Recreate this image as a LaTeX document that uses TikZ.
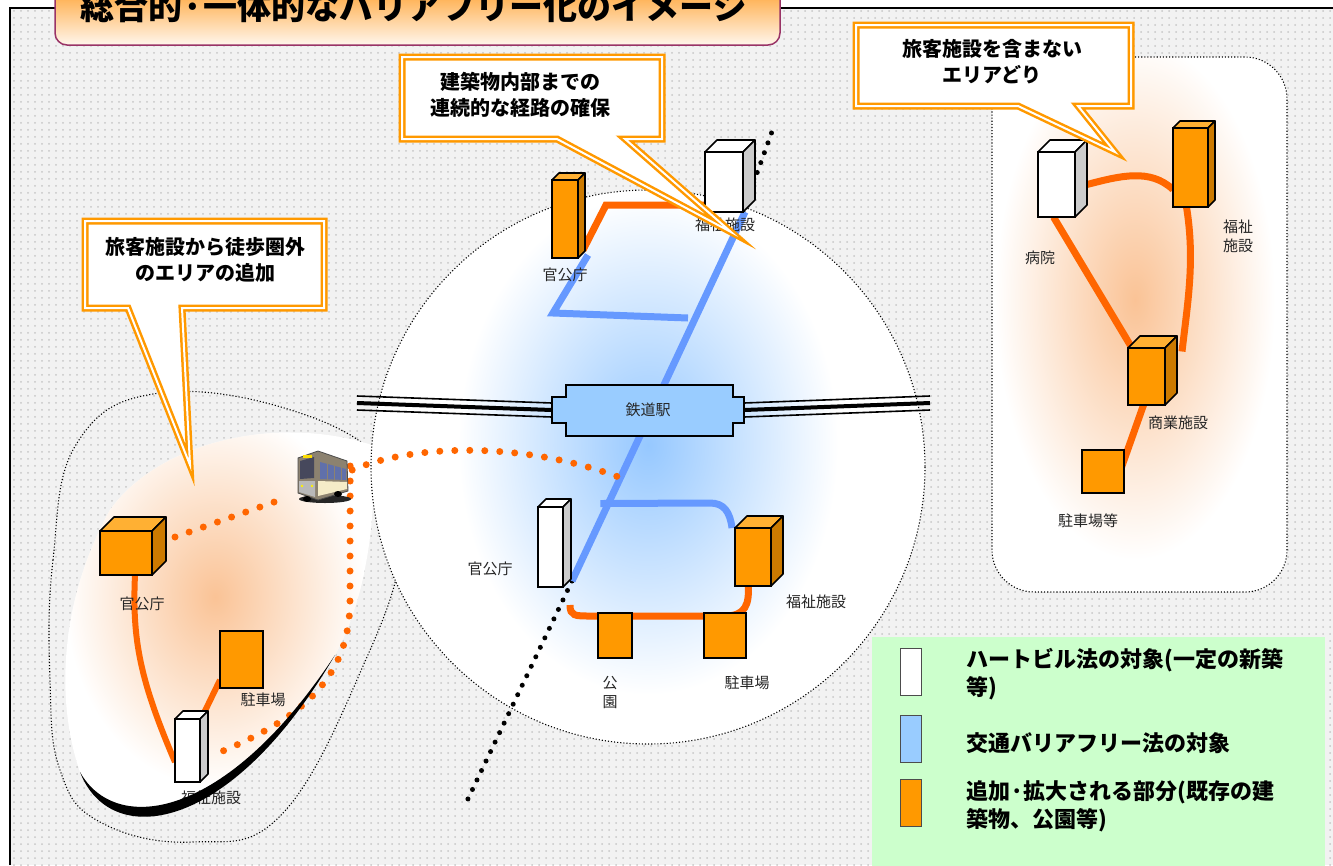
\documentclass[tikz,border=0pt]{standalone}
\usepackage{fontspec}
\setmainfont{Noto Sans CJK JP}
\usetikzlibrary{calc,patterns.meta}
\definecolor{bldorange}{RGB}{255,153,0}
\definecolor{bldtop}{RGB}{255,176,51}
\definecolor{bldside}{RGB}{204,122,0}
\definecolor{wside}{RGB}{204,204,204}
\definecolor{routeorange}{RGB}{255,102,0}
\definecolor{routeblue}{RGB}{102,153,255}
\definecolor{stationblue}{RGB}{153,204,255}
\definecolor{glowblue}{RGB}{150,200,255}
\definecolor{glowpeach}{RGB}{250,195,150}
\definecolor{balloonorange}{RGB}{255,153,0}
\definecolor{titleedge}{RGB}{153,51,102}
\definecolor{titletop}{RGB}{255,140,0}
\definecolor{titlebottom}{RGB}{255,246,236}
\definecolor{legendgreen}{RGB}{204,255,204}
\definecolor{busbody}{RGB}{140,130,112}
\definecolor{buswin}{RGB}{70,72,92}
\definecolor{busside}{RGB}{96,112,170}
\definecolor{buscream}{RGB}{245,236,200}
\pgfdeclarelayer{back}
\pgfdeclarelayer{routes}
\pgfsetlayers{back,routes,main}
\newcommand{\bldg}[7]{%
  \filldraw[#7top] (#2,#3) -- ({#2+#6},{#3-#6}) -- ({#4+#6},{#3-#6}) -- (#4,#3) -- cycle;
  \filldraw[#7side] (#4,#3) -- ({#4+#6},{#3-#6}) -- ({#4+#6},{#5-#6}) -- (#4,#5) -- cycle;
  \node[#7front, minimum width={#4-#2}, minimum height={#5-#3}] (#1) at (#2,#3) {};
}

\begin{document}
\begin{tikzpicture}[x=1pt, y=-1pt,
    wtop/.style={fill=white, draw=black, line width=1.6pt, line join=round},
    wside/.style={fill=wside, draw=black, line width=1.6pt, line join=round},
    wfront/.style={fill=white, draw=black, line width=1.6pt, inner sep=0, outer sep=0, anchor=north west},
    otop/.style={fill=bldtop, draw=black, line width=1.6pt, line join=round},
    oside/.style={fill=bldside, draw=black, line width=1.6pt, line join=round},
    ofront/.style={fill=bldorange, draw=black, line width=1.6pt, inner sep=0, outer sep=0, anchor=north west},
    lot/.style={fill=bldorange, draw=black, line width=1.6pt, inner sep=0, outer sep=0, anchor=north west},
    route/.style={routeorange, line width=7pt},
    bluepath/.style={routeblue, line width=7pt},
    dotroute/.style={routeorange, line width=7pt, line cap=round, dash pattern=on 0pt off 15pt},
    raildots/.style={black, line width=5pt, line cap=round, dash pattern=on 0pt off 10.5pt},
    regionline/.style={black, line width=1.1pt, dotted},
    lbl/.style={font=\fontsize{15}{19}\selectfont, text=black!85, inner sep=0, align=center},
    note/.style={font=\bfseries\fontsize{20}{26}\selectfont, align=center, inner sep=0},
    balloon/.style={draw=balloonorange, line width=2.5pt, double=white, double distance=2pt, fill=white, line join=miter},
    legtext/.style={font=\bfseries\fontsize{22}{28}\selectfont, align=left, inner sep=0, anchor=west},
    swatch/.style={draw=black!70, line width=1pt, minimum width=21, minimum height=47, inner sep=0}]
\useasboundingbox (0,0) rectangle (1333,865);

\begin{pgfonlayer}{back}
\fill[white] (0,0) rectangle (1333,865);
\fill[black!5] (10,8) rectangle (1333,865);
\fill[pattern={Dots[distance=7pt, radius=1pt]}, pattern color=black!22] (10,8) rectangle (1333,865);
\draw[line width=1.6pt] (10,865) -- (10,8) -- (1333,8);

\draw[regionline] plot[smooth cycle, tension=0.7] coordinates {(50,680) (53,560) (77,443) (160,393) (300,413) (390,470) (402,545) (367,657) (283,813) (193,842) (100,822) (60,770)};

\begin{scope}
  \clip (648,467) circle (277);
  \fill[white] (648,467) circle (277);
  \shade[inner color=glowblue, outer color=white] (648,445) ellipse (190 and 250);
\end{scope}

\begin{scope}
  \clip (335,655) .. controls (225,822) and (115,835) .. (80,772) .. controls (55,700) and (60,600) .. (110,510) .. controls (160,440) and (280,415) .. (372,445) .. controls (378,520) and (365,600) .. (335,655);
  \fill[white] (0,380) rectangle (400,840);
  \shade[inner color=glowpeach, outer color=white] (215,597) ellipse (150 and 190);
\end{scope}
\draw[regionline] (648,467) circle (277);

\begin{scope}
  \clip[rounded corners=42pt] (992,57) rectangle (1287,592);
  \fill[white] (992,57) rectangle (1287,592);
  \shade[inner color=glowpeach, outer color=white] (1135,300) ellipse (140 and 260);
\end{scope}
\draw[regionline, rounded corners=42pt] (992,57) rectangle (1287,592);
\end{pgfonlayer}

\bldg{hosp}{1038}{152}{1075}{217}{12}{w}
\bldg{wel4}{1173}{128}{1208}{207}{7}{o}
\bldg{shop}{1128}{348}{1165}{405}{12}{o}
\node[lot, minimum width=42, minimum height=43] (lot4) at (1082,450) {};

\bldg{gov1}{552}{180}{578}{258}{7}{o}
\bldg{wel1}{705}{152}{743}{212}{12}{w}
\bldg{gov2}{538}{507}{563}{587}{8}{w}
\bldg{wel2}{735}{528}{771}{586}{12}{o}
\node[lot, minimum width=34, minimum height=45] (park) at (598,613) {};
\node[lot, minimum width=42, minimum height=45] (lot2) at (704,613) {};

\bldg{gov3}{100}{531}{152}{575}{14}{o}
\node[lot, minimum width=43, minimum height=57] (lot3) at (220,631) {};
\bldg{wel3}{175}{719}{200}{782}{8}{w}

\node[minimum width=52, minimum height=50, inner sep=0] (bus) at (322,476) {};
\fill[black!85] (325,499) ellipse (26 and 4);
\filldraw[fill=busbody, draw=black!70, line width=0.8pt] (298,458) -- (318,451) -- (347,461) -- (348,491) -- (318,500) -- (298,493) -- cycle;
\fill[buswin] (300,461) -- (314,457) -- (314,478) -- (300,479) -- cycle;
\fill[busside] (320,462) -- (346,469) -- (346,480) -- (320,479) -- cycle;
\draw[busbody, line width=0.8pt] (327,464) -- (327,480) (334,466) -- (334,481) (341,467) -- (341,481);
\fill[buscream] (318,481) -- (347,482) -- (347,489) -- (318,496) -- cycle;
\fill[gray!55] (299,481) -- (315,481) -- (315,497) -- (299,492) -- cycle;
\fill[yellow!80!orange] (303,455) rectangle (312,458);
\fill[yellow] (302,486) circle (1.3) (312,486) circle (1.3);
\fill[black] (307,499) ellipse (4 and 3) (338,494) ellipse (4 and 3);

\coordinate (d1) at ($(wel1.south east)+(2,0)$);
\coordinate (d2) at ($(gov2.south east)+(9,-6)$);
\coordinate (t1) at (774,126);
\coordinate (t2) at (466,803);
\coordinate (b1) at (688,318);
\coordinate (b2) at ($(d1)!0.79!(d2)+(-8,0)$);
\coordinate (j2) at ($(d1)!0.72!(d2)$);

\begin{pgfonlayer}{routes}
\draw[raildots] (wel1.south east) -- (t1);
\draw[raildots] (d2) -- (t2);

\draw[route] ($(hosp.east)+(12,0)$) .. controls (1120,176) and (1150,168) .. ($(wel4.west)+(0,22)$);
\draw[route] ($(wel4.south)+(-4,0)$) .. controls (1195,260) and (1188,300) .. ($(shop.east)+(17,-25)$);
\draw[route] ($(hosp.south)+(-3,0)$) -- ($(shop.north west)+(4,0)$);
\draw[route] ($(shop.south)+(-3,0)$) -- ($(lot4.east)+(-4,0)$);

\draw[bluepath] ($(gov1.south east)+(10,-3)$) -- (553,313) -- (b1);
\draw[bluepath] (d1) -- (d2);
\draw[bluepath] (b2) -- (710,503) .. controls (724,503) and (730,512) .. ($(wel2.north west)+(-3,0)$);
\draw[route] ($(gov1.south east)+(5,-8)$) -- (606,205) -- ($(wel1.south west)+(2,-7)$);
\draw[route] ($(gov2.south east)+(7,18)$) .. controls (570,616) and (575,616) .. (590,616) -- (725,616) .. controls (745,616) and (750,605) .. ($(wel2.south)+(-5,-3)$);
\draw[dotroute] ($(bus.east)+(4,-6)$) .. controls (410,445) and (520,440) .. (j2);

\draw[route, line width=6pt] ($(gov3.south)+(9,0)$) .. controls (132,640) and (140,680) .. ($(wel3.south west)+(0,-20)$);
\draw[route, line width=6pt] ($(lot3.south west)+(0,-8)$) -- ($(wel3.north east)+(4,-6)$);
\draw[dotroute] ($(gov3.east)+(23,-16)$) -- ($(bus.south west)+(-8,-4)$);
\draw[dotroute] ($(bus.east)+(2,-10)$) -- (350,600) .. controls (350,680) and (300,720) .. ($(wel3.east)+(12,5)$);
\end{pgfonlayer}

\coordinate (railW) at (357,403);
\coordinate (railE) at (930,403);
\node[minimum width=192, minimum height=25, inner sep=0] (stn) at (648,410) {};
\draw[line width=1.6pt] ($(railW)+(0,-7)$) -- ($(stn.west)+(0,-7)$) ($(railW)+(0,7)$) -- ($(stn.west)+(0,7)$);
\draw[line width=4pt] (railW) -- (stn.west);
\draw[line width=1.6pt] ($(railE)+(0,-7)$) -- ($(stn.east)+(0,-7)$) ($(railE)+(0,7)$) -- ($(stn.east)+(0,7)$);
\draw[line width=4pt] (railE) -- (stn.east);
\filldraw[fill=stationblue, draw=black, line width=1.6pt] (566,385) -- (733,385) -- (733,397) -- (744,397) -- (744,423) -- (733,423) -- (733,436) -- (566,436) -- (566,423) -- (552,423) -- (552,397) -- (566,397) -- cycle;
\node[lbl] at (stn) {鉄道駅};

\node[lbl] (lb1) at (1040,258) {病院};
\node[lbl] (lb2) at (1238,236) {福祉\\施設};
\node[lbl] (lb3) at (1178,423) {商業施設};
\node[lbl] (lb4) at (1088,521) {駐車場等};
\node[lbl] (lb5) at (725,225) {福祉施設};
\node[lbl] (lb6) at (565,275) {官公庁};
\node[lbl] (lb7) at (490,569) {官公庁};
\node[lbl] (lb8) at (816,602) {福祉施設};
\node[lbl] (lb9) at (610,693) {公\\園};
\node[lbl] (lb10) at (747,683) {駐車場};
\node[lbl] (lb11) at (142,604) {官公庁};
\node[lbl] (lb12) at (263,700) {駐車場};
\node[lbl] (lb13) at (211,798) {福祉施設};

\fill[black] (80,772) .. controls (110,850) and (230,835) .. (335,655) .. controls (225,822) and (115,835) .. (80,772) -- cycle;

\draw[balloon] (85,221) -- (324,221) -- (324,308) -- (182,308) -- (190,465) -- (128,308) -- (85,308) -- cycle;
\node[note] (n1) at (205,260) {旅客施設から徒歩圏外\\のエリアの追加};
\draw[balloon] (402,57) -- (662,57) -- (662,139) -- (625,139) -- (731,232) -- (557,139) -- (402,139) -- cycle;
\node[note] (n2) at (520,95) {建築物内部までの\\連続的な経路の確保};
\draw[balloon] (856,25) -- (1131,25) -- (1131,106) -- (1078,106) -- (1115,152) -- (1018,106) -- (856,106) -- cycle;
\node[note] (n3) at (992,62) {旅客施設を含まない\\エリアどり};

\node[fill=legendgreen, minimum width=453, minimum height=240, inner sep=0, anchor=north west] (leg) at (872,637) {};
\node[swatch, fill=white] (sw1) at (911,672) {};
\node[swatch, fill=stationblue] (sw2) at (911,739) {};
\node[swatch, fill=bldorange] (sw3) at (911,803) {};
\node[legtext] (lt1) at (966,674) {ハートビル法の対象(一定の新築\\等)};
\node[legtext] (lt2) at (966,743) {交通バリアフリー法の対象};
\node[legtext] (lt3) at (966,806) {追加·拡大される部分(既存の建\\築物、公園等)};

\draw[titleedge, line width=1.5pt, rounded corners=12pt, top color=titletop, bottom color=titlebottom] (55,-30) rectangle (780,45);
\node[font=\bfseries\fontsize{34}{34}\selectfont, inner sep=0] (title) at (414,7) {総合的·一体的なバリアフリー化のイメージ};
\end{tikzpicture}
\end{document}
